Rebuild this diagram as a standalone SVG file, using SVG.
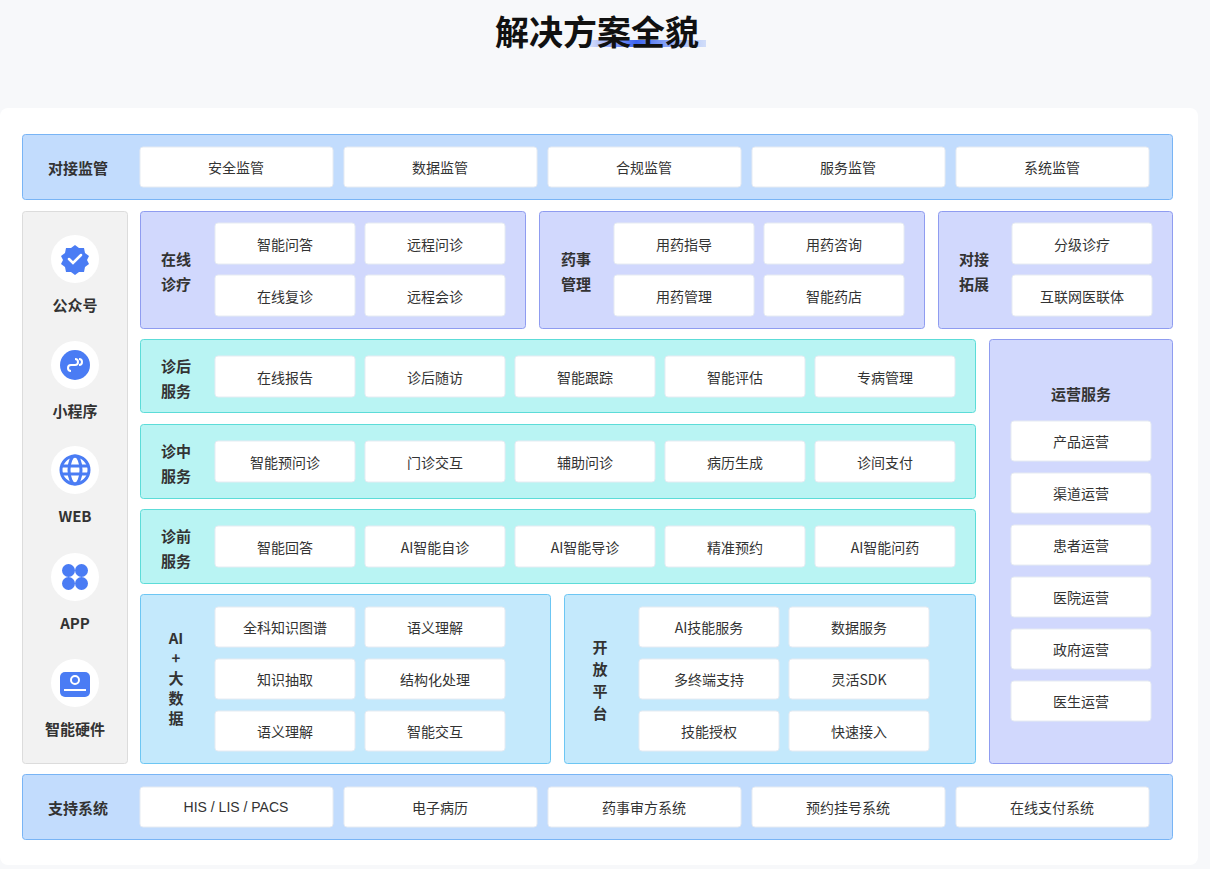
<svg xmlns="http://www.w3.org/2000/svg" width="1210" height="869" viewBox="0 0 1210 869">
<defs>
<linearGradient id="ul" x1="0" x2="1"><stop offset="0" stop-color="#4d6ff5" stop-opacity="0.2"/><stop offset="0.4" stop-color="#3c63f0"/><stop offset="1" stop-color="#7aa0f7" stop-opacity="0.3"/></linearGradient>
</defs>
<style>
text{font-family:"Noto Sans CJK SC","Liberation Sans",sans-serif;text-anchor:middle;dominant-baseline:central}
.b{fill:#fff;stroke:#e6ebf2;stroke-width:1}
.bt{font-size:14px;fill:#333}
.lb{font-size:15px;font-weight:bold;fill:#333}
.blue{fill:#c2dcfd;stroke:#78b4f5}
.pur{fill:#d1d8fd;stroke:#8f9cf0}
.cyan{fill:#b9f4f3;stroke:#5cdcd8}
.sky{fill:#c4e9fc;stroke:#6cc6f3}
.ic{fill:#4a7cf4}
</style>
<rect width="1210" height="869" fill="#f7f8fa"/>
<rect x="0" y="108" width="1198" height="757" rx="8" fill="#fff"/>
<rect x="590" y="40" width="116" height="7" fill="url(#ul)"/>
<text x="597" y="30" font-size="34" font-weight="bold" fill="#111">解决方案全貌</text>

<g id="top">
<rect class="blue" x="22.5" y="134.5" width="1150" height="65" rx="3"/>
<text class="lb" x="78" y="167">对接监管</text>
<rect class="b" x="140" y="147" width="193" height="40" rx="3"/><text class="bt" x="236" y="167">安全监管</text>
<rect class="b" x="344" y="147" width="193" height="40" rx="3"/><text class="bt" x="440" y="167">数据监管</text>
<rect class="b" x="548" y="147" width="193" height="40" rx="3"/><text class="bt" x="644" y="167">合规监管</text>
<rect class="b" x="752" y="147" width="193" height="40" rx="3"/><text class="bt" x="848" y="167">服务监管</text>
<rect class="b" x="956" y="147" width="193" height="40" rx="3"/><text class="bt" x="1052" y="167">系统监管</text>
</g>

<g id="left">
<rect x="22.5" y="211.5" width="105" height="552" rx="3" fill="#f2f2f2" stroke="#dcdcdc"/>
<circle cx="75" cy="259" r="24" fill="#fff"/>
<path class="ic" d="M75 245 l4 3 5 0 1 5 4 3 -2 4 2 4 -4 3 -1 5 -5 0 -4 3 -4 -3 -5 0 -1 -5 -4 -3 2 -4 -2 -4 4 -3 1 -5 5 0z"/>
<path d="M69 259 l4 4 8 -8" fill="none" stroke="#fff" stroke-width="2.5" stroke-linecap="round"/>
<text class="lb" x="75" y="304">公众号</text>
<circle cx="75" cy="365" r="24" fill="#fff"/>
<circle class="ic" cx="75" cy="365" r="15"/>
<path d="M71 371 a3 3 0 0 1 0 -6 l4 0 a3 3 0 0 0 0 -6 M79 359 a3 3 0 0 1 0 6" fill="none" stroke="#fff" stroke-width="2"/>
<text class="lb" x="75" y="410">小程序</text>
<circle cx="75" cy="470" r="24" fill="#fff"/>
<circle cx="75" cy="470" r="14" fill="none" stroke="#4a7cf4" stroke-width="3"/>
<ellipse cx="75" cy="470" rx="6" ry="14" fill="none" stroke="#4a7cf4" stroke-width="3"/>
<path d="M61 466 h28 M61 474 h28" stroke="#4a7cf4" stroke-width="3"/>
<text class="lb" x="75" y="515">WEB</text>
<circle cx="75" cy="577" r="24" fill="#fff"/>
<circle class="ic" cx="68.5" cy="570.5" r="6.5"/><circle class="ic" cx="81.5" cy="570.5" r="6.5"/><circle class="ic" cx="68.5" cy="583.5" r="6.5"/><circle class="ic" cx="81.5" cy="583.5" r="6.5"/>
<text class="lb" x="75" y="622">APP</text>
<circle cx="75" cy="683" r="24" fill="#fff"/>
<rect class="ic" x="60" y="672" width="30" height="25" rx="5"/>
<circle cx="75" cy="680" r="4" fill="none" stroke="#fff" stroke-width="2"/>
<path d="M64 690 h22" stroke="#fff" stroke-width="2"/>
<text class="lb" x="75" y="728">智能硬件</text>
</g>

<g id="zxzl">
<rect class="pur" x="140.5" y="211.5" width="385" height="117" rx="3"/>
<text class="lb" x="176" y="258">在线</text><text class="lb" x="176" y="283">诊疗</text>
<rect class="b" x="215" y="223" width="140" height="41" rx="3"/><text class="bt" x="285" y="244">智能问答</text>
<rect class="b" x="365" y="223" width="140" height="41" rx="3"/><text class="bt" x="435" y="244">远程问诊</text>
<rect class="b" x="215" y="275" width="140" height="41" rx="3"/><text class="bt" x="285" y="296">在线复诊</text>
<rect class="b" x="365" y="275" width="140" height="41" rx="3"/><text class="bt" x="435" y="296">远程会诊</text>
</g>
<g id="ysgl">
<rect class="pur" x="539.5" y="211.5" width="385" height="117" rx="3"/>
<text class="lb" x="576" y="258">药事</text><text class="lb" x="576" y="283">管理</text>
<rect class="b" x="614" y="223" width="140" height="41" rx="3"/><text class="bt" x="684" y="244">用药指导</text>
<rect class="b" x="764" y="223" width="140" height="41" rx="3"/><text class="bt" x="834" y="244">用药咨询</text>
<rect class="b" x="614" y="275" width="140" height="41" rx="3"/><text class="bt" x="684" y="296">用药管理</text>
<rect class="b" x="764" y="275" width="140" height="41" rx="3"/><text class="bt" x="834" y="296">智能药店</text>
</g>
<g id="djtz">
<rect class="pur" x="938.5" y="211.5" width="234" height="117" rx="3"/>
<text class="lb" x="974" y="258">对接</text><text class="lb" x="974" y="283">拓展</text>
<rect class="b" x="1012" y="223" width="140" height="41" rx="3"/><text class="bt" x="1082" y="244">分级诊疗</text>
<rect class="b" x="1012" y="275" width="140" height="41" rx="3"/><text class="bt" x="1082" y="296">互联网医联体</text>
</g>

<g id="zh">
<rect class="cyan" x="140.5" y="339.5" width="835" height="73" rx="3"/>
<text class="lb" x="176" y="365">诊后</text><text class="lb" x="176" y="390">服务</text>
<rect class="b" x="215" y="356" width="140" height="41" rx="3"/><text class="bt" x="285" y="377">在线报告</text>
<rect class="b" x="365" y="356" width="140" height="41" rx="3"/><text class="bt" x="435" y="377">诊后随访</text>
<rect class="b" x="515" y="356" width="140" height="41" rx="3"/><text class="bt" x="585" y="377">智能跟踪</text>
<rect class="b" x="665" y="356" width="140" height="41" rx="3"/><text class="bt" x="735" y="377">智能评估</text>
<rect class="b" x="815" y="356" width="140" height="41" rx="3"/><text class="bt" x="885" y="377">专病管理</text>
</g>
<g id="zz">
<rect class="cyan" x="140.5" y="424.5" width="835" height="74" rx="3"/>
<text class="lb" x="176" y="450">诊中</text><text class="lb" x="176" y="475">服务</text>
<rect class="b" x="215" y="441" width="140" height="41" rx="3"/><text class="bt" x="285" y="462">智能预问诊</text>
<rect class="b" x="365" y="441" width="140" height="41" rx="3"/><text class="bt" x="435" y="462">门诊交互</text>
<rect class="b" x="515" y="441" width="140" height="41" rx="3"/><text class="bt" x="585" y="462">辅助问诊</text>
<rect class="b" x="665" y="441" width="140" height="41" rx="3"/><text class="bt" x="735" y="462">病历生成</text>
<rect class="b" x="815" y="441" width="140" height="41" rx="3"/><text class="bt" x="885" y="462">诊间支付</text>
</g>
<g id="zq">
<rect class="cyan" x="140.5" y="509.5" width="835" height="74" rx="3"/>
<text class="lb" x="176" y="535">诊前</text><text class="lb" x="176" y="560">服务</text>
<rect class="b" x="215" y="526" width="140" height="41" rx="3"/><text class="bt" x="285" y="547">智能回答</text>
<rect class="b" x="365" y="526" width="140" height="41" rx="3"/><text class="bt" x="435" y="547">AI智能自诊</text>
<rect class="b" x="515" y="526" width="140" height="41" rx="3"/><text class="bt" x="585" y="547">AI智能导诊</text>
<rect class="b" x="665" y="526" width="140" height="41" rx="3"/><text class="bt" x="735" y="547">精准预约</text>
<rect class="b" x="815" y="526" width="140" height="41" rx="3"/><text class="bt" x="885" y="547">AI智能问药</text>
</g>

<g id="ai">
<rect class="sky" x="140.5" y="594.5" width="410" height="169" rx="3"/>
<text class="lb" x="176" y="637">AI</text><text class="lb" x="176" y="657">+</text><text class="lb" x="176" y="677">大</text><text class="lb" x="176" y="697">数</text><text class="lb" x="176" y="717">据</text>
<rect class="b" x="215" y="607" width="140" height="40" rx="3"/><text class="bt" x="285" y="627">全科知识图谱</text>
<rect class="b" x="365" y="607" width="140" height="40" rx="3"/><text class="bt" x="435" y="627">语义理解</text>
<rect class="b" x="215" y="659" width="140" height="40" rx="3"/><text class="bt" x="285" y="679">知识抽取</text>
<rect class="b" x="365" y="659" width="140" height="40" rx="3"/><text class="bt" x="435" y="679">结构化处理</text>
<rect class="b" x="215" y="711" width="140" height="40" rx="3"/><text class="bt" x="285" y="731">语义理解</text>
<rect class="b" x="365" y="711" width="140" height="40" rx="3"/><text class="bt" x="435" y="731">智能交互</text>
</g>
<g id="kfpt">
<rect class="sky" x="564.5" y="594.5" width="411" height="169" rx="3"/>
<text class="lb" x="600" y="646">开</text><text class="lb" x="600" y="668">放</text><text class="lb" x="600" y="690">平</text><text class="lb" x="600" y="712">台</text>
<rect class="b" x="639" y="607" width="140" height="40" rx="3"/><text class="bt" x="709" y="627">AI技能服务</text>
<rect class="b" x="789" y="607" width="140" height="40" rx="3"/><text class="bt" x="859" y="627">数据服务</text>
<rect class="b" x="639" y="659" width="140" height="40" rx="3"/><text class="bt" x="709" y="679">多终端支持</text>
<rect class="b" x="789" y="659" width="140" height="40" rx="3"/><text class="bt" x="859" y="679">灵活SDK</text>
<rect class="b" x="639" y="711" width="140" height="40" rx="3"/><text class="bt" x="709" y="731">技能授权</text>
<rect class="b" x="789" y="711" width="140" height="40" rx="3"/><text class="bt" x="859" y="731">快速接入</text>
</g>

<g id="yyfw">
<rect class="pur" x="989.5" y="339.5" width="183" height="424" rx="3"/>
<text class="lb" x="1081" y="393">运营服务</text>
<rect class="b" x="1011" y="421" width="140" height="40" rx="3"/><text class="bt" x="1081" y="441">产品运营</text>
<rect class="b" x="1011" y="473" width="140" height="40" rx="3"/><text class="bt" x="1081" y="493">渠道运营</text>
<rect class="b" x="1011" y="525" width="140" height="40" rx="3"/><text class="bt" x="1081" y="545">患者运营</text>
<rect class="b" x="1011" y="577" width="140" height="40" rx="3"/><text class="bt" x="1081" y="597">医院运营</text>
<rect class="b" x="1011" y="629" width="140" height="40" rx="3"/><text class="bt" x="1081" y="649">政府运营</text>
<rect class="b" x="1011" y="681" width="140" height="40" rx="3"/><text class="bt" x="1081" y="701">医生运营</text>
</g>

<g id="bottom">
<rect class="blue" x="22.5" y="774.5" width="1150" height="65" rx="3"/>
<text class="lb" x="78" y="807">支持系统</text>
<rect class="b" x="140" y="787" width="193" height="40" rx="3"/><text class="bt" x="236" y="807" style="font-family:'Liberation Sans',sans-serif">HIS / LIS / PACS</text>
<rect class="b" x="344" y="787" width="193" height="40" rx="3"/><text class="bt" x="440" y="807">电子病历</text>
<rect class="b" x="548" y="787" width="193" height="40" rx="3"/><text class="bt" x="644" y="807">药事审方系统</text>
<rect class="b" x="752" y="787" width="193" height="40" rx="3"/><text class="bt" x="848" y="807">预约挂号系统</text>
<rect class="b" x="956" y="787" width="193" height="40" rx="3"/><text class="bt" x="1052" y="807">在线支付系统</text>
</g>
<g id="connectors"/>
</svg>
